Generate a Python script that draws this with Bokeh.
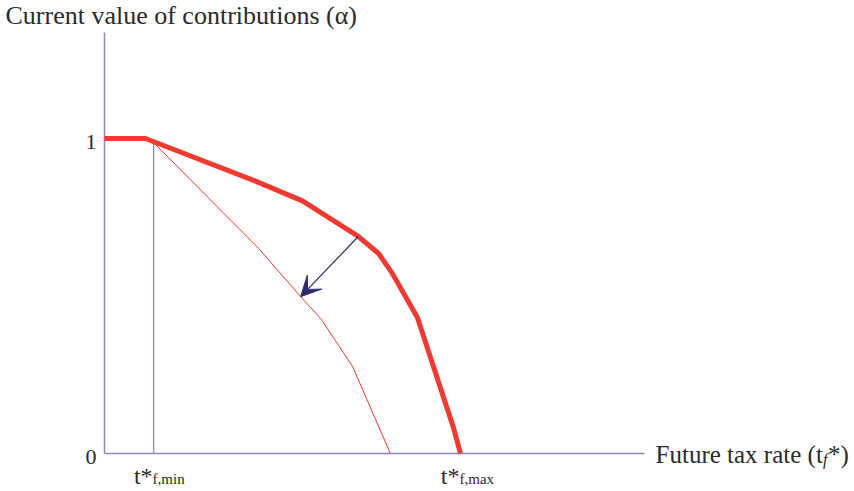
from bokeh.plotting import figure
from bokeh.models import Arrow, VeeHead
from bokeh.core.properties import value
from bokeh.embed import file_html
from bokeh.resources import INLINE

# ---- data (schematic units: t_max = 1, alpha = 1 at the plateau) ----
thick_x = [0.0, 0.115, 0.419, 0.556, 0.713, 0.770, 0.809, 0.879, 0.980, 1.0]
thick_y = [1.0, 1.0, 0.867, 0.802, 0.689, 0.635, 0.571, 0.432, 0.083, 0.0]

thin_x = [0.138, 0.433, 0.551, 0.607, 0.697, 0.803]
thin_y = [0.987, 0.651, 0.498, 0.429, 0.276, 0.0]

t_min = 0.138
t_max = 1.0
t_min_top = 0.987

arrow_start = (0.713, 0.689)
arrow_end = (0.551, 0.498)

y_ticks = [0, 1]
y_tick_labels = ["0", "1"]
x_tick_vals = [0.138, 1.0]
x_tick_subs = ["f,min", "f,max"]
x_label = "Future tax rate (t"
y_label = "Current value of contributions (\u03b1)"

# axis extents (data units)
x_axis_end = 1.517
y_axis_end = 1.3365

AXIS = "#8a8ab8"
RED = "#ee3a30"
NAVY = "#2b2b6b"
TXT = "#2a2a2a"
FONT = value("Liberation Serif")

W, H = 854, 491
p = figure(width=W, height=H, title=None, toolbar_location=None,
           output_backend="svg",
           x_range=(-0.2921, 2.1067), y_range=(-0.1206, 1.4381),
           min_border=0)
p.outline_line_color = None
p.grid.visible = False
p.axis.visible = False
p.background_fill_color = "white"
p.border_fill_color = "white"

# axes drawn as lines
p.segment(x0=[0, 0], y0=[0, 0], x1=[x_axis_end, 0], y1=[0, y_axis_end],
          line_color=AXIS, line_width=1.5)

# vertical guide at t*_f,min
p.segment(x0=[t_min], y0=[0], x1=[t_min], y1=[t_min_top],
          line_color=AXIS, line_width=1.3)

# curves
p.line(thin_x, thin_y, line_color=RED, line_width=1)
p.line(thick_x, thick_y, line_color=RED, line_width=5)

# arrow
p.add_layout(Arrow(x_start=arrow_start[0], y_start=arrow_start[1],
                   x_end=arrow_end[0], y_end=arrow_end[1],
                   line_color=NAVY, line_width=1.2,
                   end=VeeHead(size=20, fill_color=NAVY, fill_alpha=1.0,
                               line_color=NAVY)))

# y tick labels
p.text(x=[0] * len(y_ticks), y=y_ticks, text=y_tick_labels, x_offset=-8, y_offset=3,
       text_font=FONT, text_font_size="22px", text_color=TXT,
       text_align="right", text_baseline="middle")

# y-axis title at top-left
p.text(x=[0], y=[y_axis_end], text=[y_label], x_offset=-99, y_offset=-17,
       text_font=FONT, text_font_size="26px", text_color=TXT,
       text_align="left", text_baseline="alphabetic")

# x-axis title with subscript
xl_size = 25
w = 6.693 * xl_size
p.text(x=[x_axis_end], y=[0], text=[x_label], x_offset=11, y_offset=1,
       text_font=FONT, text_font_size=f"{xl_size}px", text_color=TXT,
       text_align="left", text_baseline="alphabetic")
p.text(x=[x_axis_end], y=[0], text=["f"], x_offset=11 + w, y_offset=6,
       text_font=FONT, text_font_style="italic", text_font_size="16px", text_color=TXT,
       text_align="left", text_baseline="alphabetic")
p.text(x=[x_axis_end], y=[0], text=["*)"], x_offset=11 + w + 5, y_offset=1,
       text_font=FONT, text_font_size=f"{xl_size}px", text_color=TXT,
       text_align="left", text_baseline="alphabetic")

# x tick labels t*_{f,min}, t*_{f,max}
p.text(x=x_tick_vals, y=[0] * len(x_tick_vals), text=["t*"] * len(x_tick_vals),
       x_offset=-1, y_offset=22,
       text_font=FONT, text_font_size="24px", text_color=TXT,
       text_align="right", text_baseline="alphabetic")
p.text(x=x_tick_vals, y=[0] * len(x_tick_vals), text=x_tick_subs,
       x_offset=-1, y_offset=25,
       text_font=FONT, text_font_size="15px", text_color=TXT,
       text_align="left", text_baseline="alphabetic")

open("out.html", "w").write(file_html(p, INLINE))
